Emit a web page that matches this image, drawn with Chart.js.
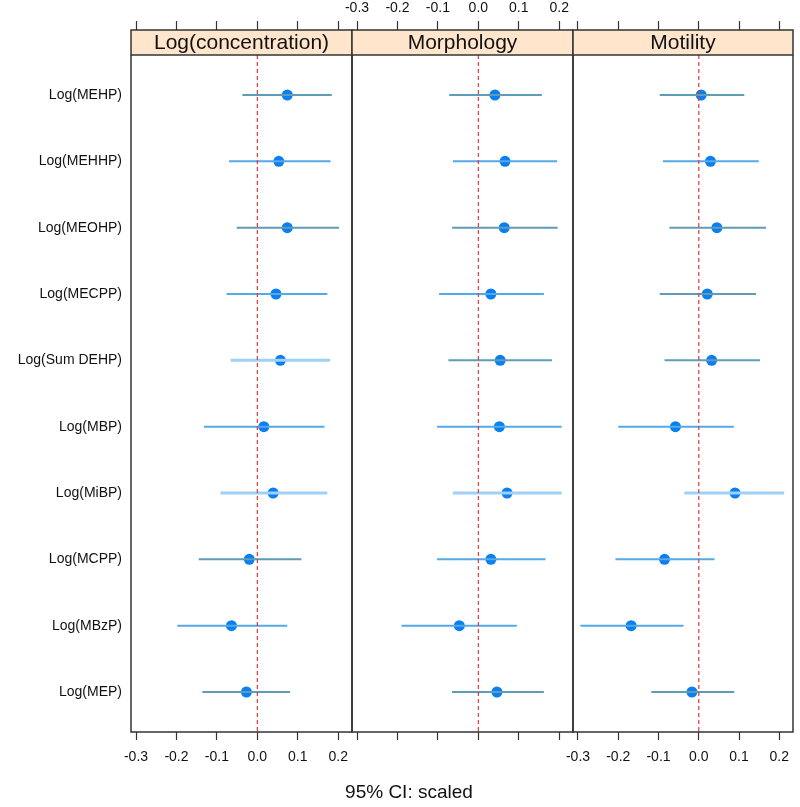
<!DOCTYPE html>
<html>
<head>
<meta charset="utf-8">
<script src="https://cdn.jsdelivr.net/npm/chart.js@4.4.1/dist/chart.umd.min.js"></script>
<style>
  body { margin: 0; background: #fff; }
  #wrap { position: relative; width: 800px; height: 807px; overflow: hidden; }
  #wrap canvas { position: absolute; top: 0; }
  #xlab { position: absolute; top: 781px; left: 209px; width: 400px; text-align: center;
          font: 19px "Liberation Sans", Arial, sans-serif; color: #111; }
</style>
</head>
<body>
<div id="wrap">
  <canvas id="p1" width="364" height="807" style="left:0px"></canvas>
  <canvas id="p2" width="261" height="807" style="left:332px"></canvas>
  <canvas id="p3" width="247" height="807" style="left:553px"></canvas>
  <div id="xlab">95% CI: scaled</div>
</div>
<script>
// rows, top to bottom
const categories = ['Log(MEHP)', 'Log(MEHHP)', 'Log(MEOHP)', 'Log(MECPP)', 'Log(Sum DEHP)',
                    'Log(MBP)', 'Log(MiBP)', 'Log(MCPP)', 'Log(MBzP)', 'Log(MEP)'];
const panelTitles = ['Log(concentration)', 'Morphology', 'Motility'];
const xTicks = [-0.3, -0.2, -0.1, 0.0, 0.1, 0.2];

// estimates and 95% CI (scaled)
const concEst  = [0.074, 0.053, 0.074, 0.046, 0.057, 0.016, 0.039, -0.020, -0.064, -0.027];
const concLow  = [-0.037, -0.070, -0.051, -0.076, -0.066, -0.132, -0.091, -0.145, -0.198, -0.136];
const concHigh = [0.184, 0.181, 0.202, 0.173, 0.180, 0.166, 0.173, 0.109, 0.074, 0.081];

const morphEst  = [0.041, 0.066, 0.064, 0.031, 0.054, 0.052, 0.071, 0.031, -0.047, 0.046];
const morphLow  = [-0.072, -0.063, -0.065, -0.097, -0.074, -0.102, -0.063, -0.102, -0.190, -0.065];
const morphHigh = [0.157, 0.195, 0.196, 0.162, 0.182, 0.206, 0.206, 0.166, 0.095, 0.162];

const motEst  = [0.006, 0.029, 0.045, 0.021, 0.032, -0.058, 0.090, -0.085, -0.168, -0.017];
const motLow  = [-0.097, -0.089, -0.073, -0.097, -0.085, -0.200, -0.036, -0.207, -0.294, -0.118];
const motHigh = [0.113, 0.149, 0.167, 0.142, 0.152, 0.087, 0.212, 0.039, -0.038, 0.088];

// segment colour groups (t = teal, b = blue, l = light)
const segTone = [
  ['t', 'b', 't', 'b', 'l', 'b', 'l', 't', 'b', 't'],
  ['t', 'b', 't', 'b', 't', 'b', 'l', 'b', 'b', 't'],
  ['t', 'b', 't', 't', 't', 'b', 'l', 'b', 'b', 't']
];
const toneColor = { t: '#5f9db6', b: '#55a9e6', l: '#9fd0f6' };

const X_MIN = -0.3124, X_MAX = 0.234;
const Y_TOP = -0.98, Y_BOTTOM = 9.603, STRIP_EDGE = -0.603;
const FONT = '"Liberation Sans", Arial, sans-serif';

const fmt = v => (Math.round(v * 10) / 10).toFixed(1);

const panelFrame = {
  id: 'panelFrame',
  beforeDatasetsDraw(chart) {
    const { ctx, chartArea: a, scales } = chart;
    const sb = scales.y.getPixelForValue(STRIP_EDGE);
    ctx.save();
    ctx.fillStyle = '#ffe5cc';
    ctx.fillRect(a.left, a.top, a.right - a.left, sb - a.top);
    ctx.fillStyle = '#111';
    ctx.font = '21px ' + FONT;
    ctx.textAlign = 'center';
    ctx.textBaseline = 'middle';
    ctx.fillText(chart.options.plugins.panelFrame.title, (a.left + a.right) / 2, (a.top + sb) / 2 + 1);
    ctx.restore();
  },
  afterDraw(chart) {
    const { ctx, chartArea: a, scales } = chart;
    const sb = scales.y.getPixelForValue(STRIP_EDGE);
    ctx.save();
    ctx.strokeStyle = '#333';
    ctx.lineWidth = 1.5;
    ctx.strokeRect(a.left, a.top, a.right - a.left, a.bottom - a.top);
    ctx.beginPath();
    ctx.moveTo(a.left, sb);
    ctx.lineTo(a.right, sb);
    ctx.stroke();
    ctx.restore();
  }
};

function makePanel(id, idx, est, low, high, opts) {
  const datasets = [];
  // zero reference line
  datasets.push({
    data: [{ x: 0, y: STRIP_EDGE }, { x: 0, y: Y_BOTTOM }],
    showLine: true, borderColor: '#e8363a', borderWidth: 1.2, borderDash: [4, 3],
    pointRadius: 0
  });
  categories.forEach((c, i) => {
    const tone = segTone[idx][i];
    datasets.push({
      data: [{ x: low[i], y: i }, { x: high[i], y: i }],
      showLine: true, borderColor: toneColor[tone], borderWidth: tone === 'l' ? 3 : 2,
      pointRadius: 0
    });
  });
  datasets.push({
    data: est.map((v, i) => ({ x: v, y: i })),
    pointRadius: 5.5, pointBackgroundColor: '#0a7ff0', pointBorderWidth: 0
  });

  const xTickConf = (showLabels, pad) => ({
    display: showLabels, padding: pad, color: '#111', maxRotation: 0, minRotation: 0,
    font: { family: FONT, size: 14 }, callback: v => fmt(v)
  });

  return new Chart(document.getElementById(id), {
    type: 'scatter',
    data: { datasets },
    plugins: [panelFrame],
    options: {
      responsive: false,
      animation: false,
      layout: { padding: opts.padding },
      plugins: { legend: { display: false }, tooltip: { enabled: false }, panelFrame: { title: panelTitles[idx] } },
      scales: {
        x: {
          type: 'linear', position: 'bottom', min: X_MIN, max: X_MAX,
          afterBuildTicks: s => { s.ticks = xTicks.map(v => ({ value: v })); },
          afterFit: s => { s.height = 40; },
          grid: { drawOnChartArea: false, drawTicks: true, tickLength: 8, tickColor: '#333', tickWidth: 1.2 },
          border: { display: false },
          ticks: xTickConf(opts.bottomLabels, 9)
        },
        xTop: {
          type: 'linear', position: 'top', min: X_MIN, max: X_MAX,
          afterBuildTicks: s => { s.ticks = xTicks.map(v => ({ value: v })); },
          afterFit: s => { s.height = 30; },
          grid: { drawOnChartArea: false, drawTicks: true, tickLength: 9, tickColor: '#333', tickWidth: 1.2 },
          border: { display: false },
          ticks: xTickConf(opts.topLabels, 4)
        },
        y: {
          type: 'linear', display: opts.yLabels, reverse: true, min: Y_TOP, max: Y_BOTTOM,
          afterBuildTicks: s => { s.ticks = categories.map((c, i) => ({ value: i })); },
          afterFit: s => { s.width = opts.yLabels ? 131 : 0; },
          grid: { display: false, drawTicks: false },
          border: { display: false },
          ticks: { padding: 9, color: '#111', font: { family: FONT, size: 14 }, callback: v => categories[v] }
        }
      }
    }
  });
}

makePanel('p1', 0, concEst, concLow, concHigh,
  { padding: { left: 0, right: 12, top: 0, bottom: 35 }, bottomLabels: true, topLabels: false, yLabels: true });
makePanel('p2', 1, morphEst, morphLow, morphHigh,
  { padding: { left: 20, right: 20, top: 0, bottom: 35 }, bottomLabels: false, topLabels: true, yLabels: false });
makePanel('p3', 2, motEst, motLow, motHigh,
  { padding: { left: 20, right: 7, top: 0, bottom: 35 }, bottomLabels: true, topLabels: false, yLabels: false });
</script>
</body>
</html>
